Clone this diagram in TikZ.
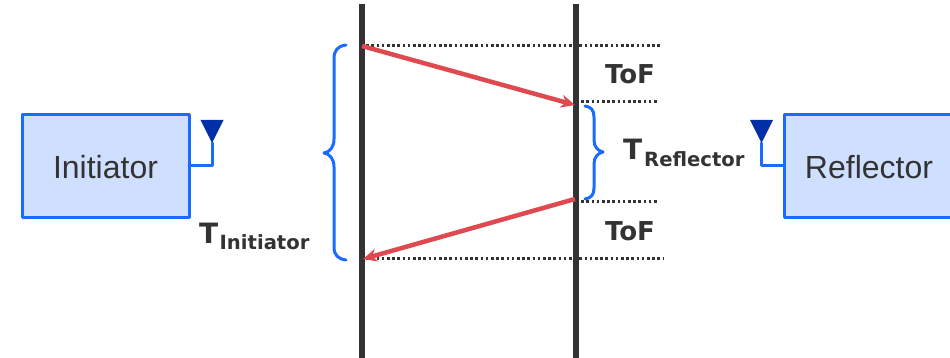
\documentclass[tikz,border=0pt]{standalone}
\usepackage{fontspec}
\usetikzlibrary{arrows.meta}
\setmainfont{Liberation Sans}
\newfontfamily\labelfont{DejaVu Sans}
\definecolor{boxfill}{HTML}{CFDFFF}
\definecolor{boxline}{HTML}{1A6BFF}
\definecolor{antfill}{HTML}{002FA7}
\definecolor{darkline}{HTML}{333333}
\definecolor{sigred}{HTML}{DE4A50}
\tikzset{
  devbox/.style={draw=boxline,fill=boxfill,line width=3pt,minimum height=103pt,outer sep=0pt,text=darkline,font=\fontsize{32}{36}\selectfont},
  timeline/.style={line width=6pt,draw=darkline,line cap=butt},
  tick/.style={line width=2.5pt,draw=darkline,line cap=butt,dash pattern=on 2.6pt off 2.6pt},
  signal/.style={-{Stealth[length=14pt,width=13pt]},line width=4.5pt,draw=sigred,line cap=butt},
  stem/.style={line width=3pt,draw=boxline},
  brace/.style={line width=3pt,draw=boxline},
  tof/.style={text=darkline,inner sep=0pt,font=\labelfont\bfseries\fontsize{26}{30}\selectfont},
  tlabel/.style={text=darkline,inner sep=0pt,anchor=base west,font=\labelfont\bfseries\fontsize{28}{30}\selectfont},
  tsub/.style={text=darkline,inner sep=0pt,anchor=base west,font=\labelfont\bfseries\fontsize{19.6}{24}\selectfont}
}
\begin{document}
\begin{tikzpicture}[line cap=round,line join=round,x=1pt,y=-1pt]
\clip (0,0) rectangle (950,358);
\fill[white] (0,0) rectangle (950,358);
\coordinate (leftTop) at (361.5,4);
\coordinate (leftBot) at (361.5,358);
\coordinate (rightTop) at (576,4);
\coordinate (rightBot) at (576,358);
\coordinate (sendA) at (362,46);
\coordinate (recvA) at (575,105);
\coordinate (sendB) at (575,199);
\coordinate (recvB) at (363,259);
\coordinate (tickA) at (661,45.5);
\coordinate (tickAs) at (361,45.5);
\coordinate (tickBs) at (576,101.5);
\coordinate (tickB) at (659,101.5);
\coordinate (tickCs) at (576,201.5);
\coordinate (tickC) at (659,201.5);
\coordinate (tickDs) at (361,258.5);
\coordinate (tickD) at (663,258.5);
% dotted levels
\draw [tick] (tickAs) -- (tickA);
\draw [tick] (tickBs) -- (tickB);
\draw [tick] (tickCs) -- (tickC);
\draw [tick] (tickDs) -- (tickD);
% time axes
\draw [timeline] (leftTop) -- (leftBot);
\draw [timeline] (rightTop) -- (rightBot);
% signals
\draw [signal] (sendA) -- (recvA);
\draw [signal] (sendB) -- (recvB);
% devices
\node [devbox,minimum width=167pt] (initiator) at (105.5,166) {\raisebox{-1pt}[\height][\depth]{Initiator}};
\node [devbox,minimum width=170pt] (reflector) at (869,166) {\raisebox{-1pt}[\height][\depth]{Reflector}};
% antennas
\coordinate (antI) at (212,143);
\coordinate (antR) at (761.5,143);
\draw [stem] (initiator.east) -| (antI);
\draw [stem] (reflector.west) -| (antR);
\fill [antfill] (200.5,120) -- (223.5,120) -- (antI) -- cycle;
\fill [antfill] (750,120) -- (773,120) -- (antR) -- cycle;
% braces
\draw [brace] (346,45) .. controls (338,46) and (334,50) .. (334,59) -- (334,139)
  .. controls (334,147) and (330,152) .. (324,153) .. controls (330,154) and (334,159) .. (334,167)
  -- (334,247) .. controls (334,255) and (338,259) .. (346,260);
\draw [brace] (585,106) .. controls (591,107) and (594,110) .. (594,117) -- (594,140)
  .. controls (594,147) and (598,151) .. (603,152) .. controls (598,153) and (594,157) .. (594,164)
  -- (594,188) .. controls (594,195) and (591,198) .. (585,199);
% labels
\node [tof] (tofA) at (630,74) {ToF};
\node [tof] (tofB) at (630,231) {ToF};
\node [tlabel] (tInit) at (199,243) {T};
\node [tsub] (tInitSub) at (219.5,249) {Initiator};
\node [tlabel] (tRefl) at (623,160) {T};
\node [tsub] (tReflSub) at (644,167) {Reflector};
\end{tikzpicture}
\end{document}
